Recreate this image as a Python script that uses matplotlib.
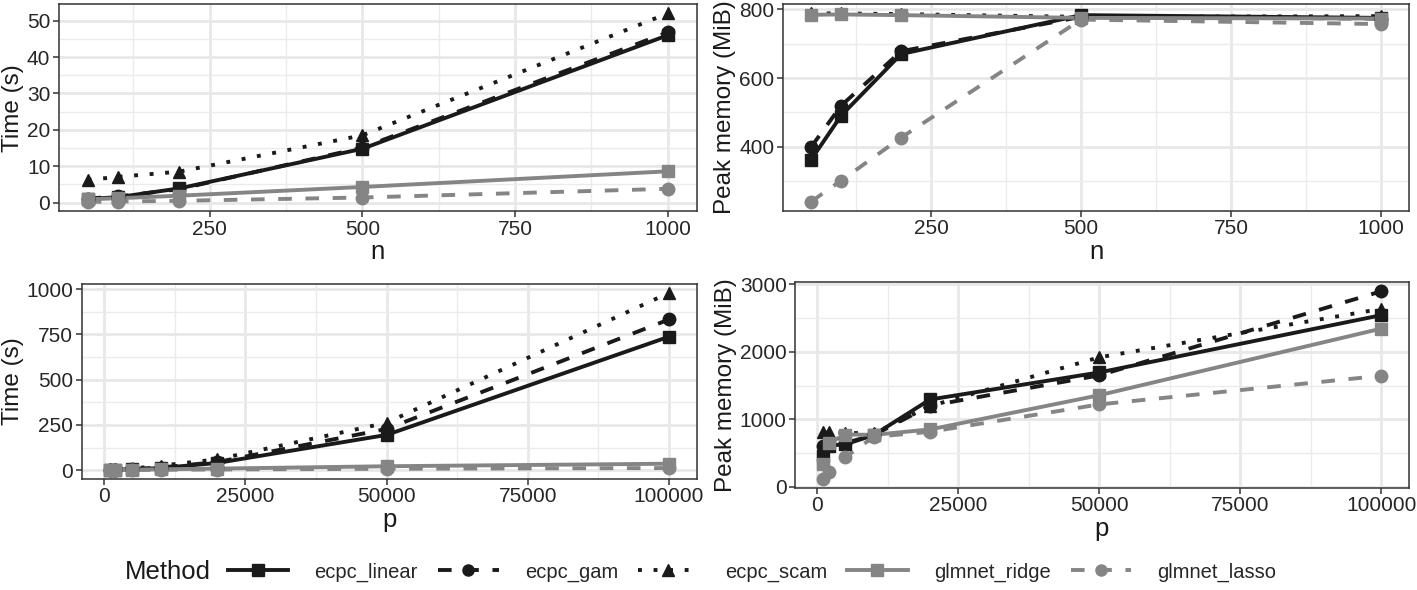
import matplotlib
matplotlib.use("Agg")
import matplotlib.pyplot as plt
from matplotlib.lines import Line2D
from matplotlib.ticker import MultipleLocator

plt.rcParams['font.family'] = ['Liberation Sans', 'DejaVu Sans']

methods = ["ecpc_linear", "ecpc_gam", "ecpc_scam", "glmnet_ridge", "glmnet_lasso"]

n_vals = [50, 100, 200, 500, 1000]
time_n = {
    "ecpc_linear": [1.0, 1.5, 3.9, 14.8, 46.0],
    "ecpc_gam": [1.1, 1.7, 3.7, 15.1, 46.8],
    "ecpc_scam": [6.2, 7.1, 8.5, 18.5, 52.0],
    "glmnet_ridge": [0.9, 1.2, 1.9, 4.3, 8.6],
    "glmnet_lasso": [0.2, 0.3, 0.5, 1.4, 3.8],
}
mem_n = {
    "ecpc_linear": [363, 491, 670, 783, 775],
    "ecpc_gam": [400, 520, 678, 778, 773],
    "ecpc_scam": [788, 788, 786, 778, 780],
    "glmnet_ridge": [784, 785, 783, 775, 773],
    "glmnet_lasso": [241, 302, 427, 770, 757],
}

p_vals = [1000, 2000, 5000, 10000, 20000, 50000, 100000]
time_p = {
    "ecpc_linear": [2, 3, 5, 12, 40, 195, 738],
    "ecpc_gam": [3, 4, 6, 15, 45, 228, 833],
    "ecpc_scam": [5, 7, 9, 25, 60, 262, 980],
    "glmnet_ridge": [1, 2, 3, 5, 9, 22, 36],
    "glmnet_lasso": [0.5, 1, 1.5, 2.5, 4, 8, 12],
}
mem_p = {
    "ecpc_linear": [463, 610, 630, 766, 1293, 1693, 2540],
    "ecpc_gam": [600, 640, 650, 766, 1200, 1650, 2893],
    "ecpc_scam": [805, 805, 800, 790, 1195, 1917, 2634],
    "glmnet_ridge": [341, 650, 775, 770, 850, 1356, 2341],
    "glmnet_lasso": [122, 215, 439, 740, 815, 1220, 1644],
}

dark = "#1a1a1a"
grey = "#858585"
style = {
    "ecpc_linear": dict(color=dark, dashes=(), marker="s"),
    "ecpc_gam": dict(color=dark, dashes=(3.5, 3.5), marker="o"),
    "ecpc_scam": dict(color=dark, dashes=(1, 3), marker="^"),
    "glmnet_ridge": dict(color=grey, dashes=(), marker="s"),
    "glmnet_lasso": dict(color=grey, dashes=(3.5, 3.5), marker="o"),
}
LW = 2.8
MS = 9
txt = "#262626"

W, H = 1417, 590
fig = plt.figure(figsize=(W / 100, H / 100), dpi=100)


def make_ax(left, right, top, bottom):
    return fig.add_axes([left / W, 1 - bottom / H, (right - left) / W, (bottom - top) / H])


def draw(ax, x, data, ylabel, xlabel, xmaj, xmin, ymaj, ymin):
    for m in methods:
        st = style[m]
        ln, = ax.plot(x, data[m], color=st["color"], lw=LW, solid_capstyle="butt",
                      dash_capstyle="butt", zorder=3)
        if st["dashes"]:
            ln.set_dashes(st["dashes"])
    for m in methods:
        st = style[m]
        ax.plot(x, data[m], ls="none", marker=st["marker"], color=st["color"],
                ms=MS, zorder=4)
    ax.margins(x=0.05, y=0.05)
    ax.xaxis.set_major_locator(MultipleLocator(xmaj))
    ax.xaxis.set_minor_locator(MultipleLocator(xmin))
    ax.yaxis.set_major_locator(MultipleLocator(ymaj))
    ax.yaxis.set_minor_locator(MultipleLocator(ymin))
    ax.grid(True, which="major", color="#E8E8E8", lw=2.0, zorder=0)
    ax.grid(True, which="minor", color="#EBEBEB", lw=1.0, zorder=0)
    ax.set_axisbelow(True)
    for s in ax.spines.values():
        s.set_color("#333333")
        s.set_linewidth(1.1)
    ax.tick_params(which="major", length=4, width=1.1, color="#333333",
                   labelsize=15, labelcolor=txt, pad=2)
    ax.tick_params(which="minor", length=0)
    ax.set_ylabel(ylabel, fontsize=17.5, color=dark, labelpad=2)
    ax.set_xlabel(xlabel, fontsize=18.5, color=dark, labelpad=1)


ax1 = make_ax(58.7, 696.7, 4, 211.3)
draw(ax1, n_vals, time_n, "Time (s)", "n", 250, 125, 10, 5)

ax2 = make_ax(782.7, 1409.3, 4, 211)
draw(ax2, n_vals, mem_n, "Peak memory (MiB)", "n", 250, 125, 200, 100)

ax3 = make_ax(81.7, 697, 284, 479)
draw(ax3, p_vals, time_p, "Time (s)", "p", 25000, 12500, 250, 125)

ax4 = make_ax(795, 1409, 282, 488)
draw(ax4, p_vals, mem_p, "Peak memory (MiB)", "p", 25000, 12500, 1000, 500)

handles = []
for m in methods:
    st = style[m]
    h = Line2D([0], [0], color=st["color"], lw=LW, marker=st["marker"], ms=MS - 1)
    if st["dashes"]:
        h.set_dashes(st["dashes"])
    handles.append(h)

fig.text(125 / W, 1 - 572 / H, "Method", fontsize=18.5, color=dark,
         ha="left", va="center")
fig.legend(handles, methods, loc="center left", bbox_to_anchor=(228 / W, 1 - 572 / H),
           ncol=5, frameon=False, fontsize=14.5, handlelength=3.0, handletextpad=1.3,
           columnspacing=1.0, borderpad=0, borderaxespad=0, labelcolor=txt)

fig.savefig("out.png", dpi=100)
